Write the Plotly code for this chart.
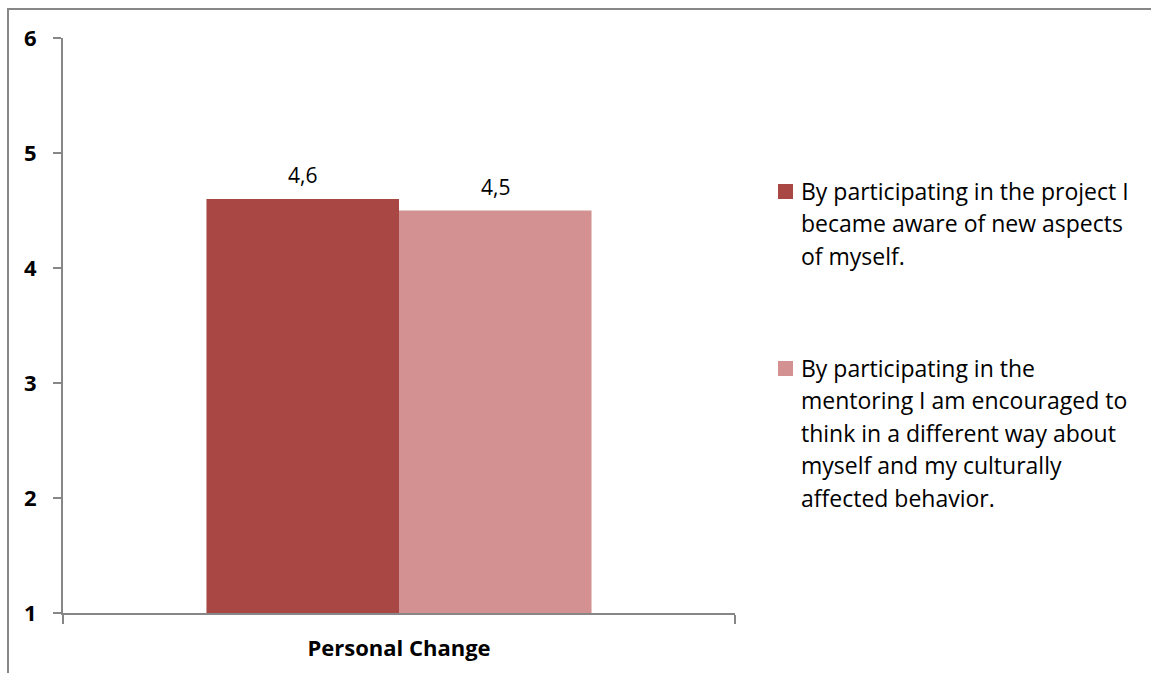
import plotly.graph_objects as go

categories = ["Personal Change"]
series_names = [
    "By participating in the project I became aware of new aspects of myself.",
    "By participating in the mentoring I am encouraged to think in a different way about myself and my culturally affected behavior.",
]
legend_lines = [
    ["By participating in the project I", "became aware of new aspects", "of myself."],
    ["By participating in the", "mentoring I am encouraged to", "think in a different way about",
     "myself and my culturally", "affected behavior."],
]
values = [[4.6], [4.5]]
colors = ["#A94745", "#D39291"]
y_ticks = [1, 2, 3, 4, 5, 6]

FONT = "Open Sans"
W, H = 1151, 673
ML, MT = 63, 38
MR = W - 735
MB = H - 613
PW, PH = W - ML - MR, H - MT - MB


def py(yscr):
    return (H - MB - yscr) / PH


def px(xscr):
    return (xscr - ML) / PW


fig = go.Figure()
for name, vals, col in zip(series_names, values, colors):
    fig.add_trace(go.Bar(x=categories, y=vals, base=0, name=name,
                         marker=dict(color=col, line=dict(width=0)),
                         showlegend=False))

annotations = []
bar_px = PW * (1 - 0.427) / 2
for i, vals in enumerate(values):
    for c, v in zip(categories, vals):
        annotations.append(dict(x=c, y=v, xref="x", yref="y",
                                text=f"{v:.1f}".replace(".", ","),
                                showarrow=False, xshift=(i - 0.5) * bar_px, yshift=24,
                                font=dict(family=FONT, size=21, color="#000")))

shapes = []
line_gap = 32.4
starts = [191, 368]
for i, lines in enumerate(legend_lines):
    for j, t in enumerate(lines):
        annotations.append(dict(x=px(799), y=py(starts[i] + j * line_gap),
                                xref="paper", yref="paper", xanchor="left", yanchor="middle",
                                text=t, showarrow=False,
                                font=dict(family=FONT, size=23, color="#000")))
    cy = starts[i] + 0.5
    shapes.append(dict(type="rect", xref="paper", yref="paper",
                       x0=px(778), x1=px(793), y0=py(cy - 7.5), y1=py(cy + 7.5),
                       fillcolor=colors[i], line=dict(width=0)))

# outer chart border: only top and left edges are visible in the frame
border = dict(color="#878787", width=2)
shapes.append(dict(type="line", xref="paper", yref="paper",
                   x0=px(7), x1=px(W), y0=py(9), y1=py(9), line=border, layer="below"))
shapes.append(dict(type="line", xref="paper", yref="paper",
                   x0=px(8), x1=px(8), y0=py(9), y1=py(H), line=border, layer="below"))

fig.update_layout(
    width=W, height=H,
    margin=dict(l=ML, r=MR, t=MT, b=MB, autoexpand=False),
    paper_bgcolor="white", plot_bgcolor="white",
    barmode="group", bargap=0.427, bargroupgap=0,
    showlegend=False,
    annotations=annotations, shapes=shapes,
    font=dict(family=FONT, color="#000"),
    xaxis=dict(showline=True, linecolor="#878787", linewidth=2, automargin=False,
               ticks="outside", tickson="boundaries", ticklen=9, tickcolor="#878787", tickwidth=2,
               tickfont=dict(family=FONT, size=22, color="#000", weight="bold"),
               ticklabelstandoff=15,
               showgrid=False, zeroline=False),
    yaxis=dict(range=[1, 6], tickvals=y_ticks, showline=True, linecolor="#878787", linewidth=2,
               automargin=False,
               ticks="outside", ticklen=8, tickcolor="#878787", tickwidth=2,
               tickfont=dict(family=FONT, size=22, color="#000", weight="bold"),
               ticklabelstandoff=12,
               showgrid=False, zeroline=False),
)

fig.write_html(
    "out.html",
    config={"displayModeBar": False},
    post_script="document.body.style.margin='0';document.body.style.overflow='hidden';",
)
